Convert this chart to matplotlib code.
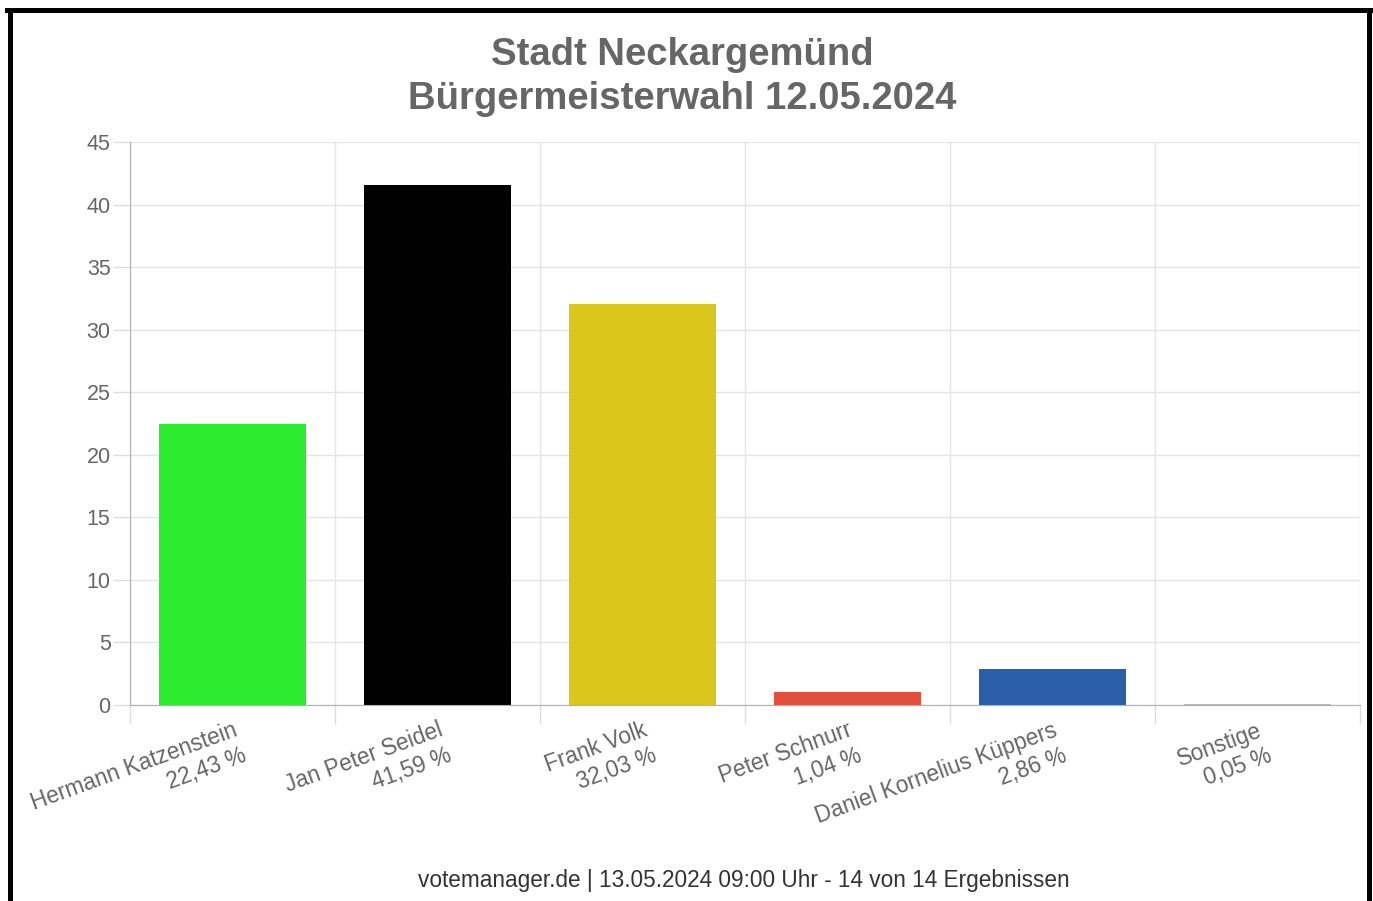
import matplotlib
matplotlib.use("Agg")
import matplotlib.pyplot as plt
from matplotlib.lines import Line2D

plt.rcParams['font.family'] = ['Liberation Sans', 'DejaVu Sans']

# data
kandidaten = ["Hermann Katzenstein", "Jan Peter Seidel", "Frank Volk",
              "Peter Schnurr", "Daniel Kornelius Küppers", "Sonstige"]
anteile = [22.43, 41.59, 32.03, 1.04, 2.86, 0.05]
anteil_text = ["22,43 %", "41,59 %", "32,03 %", "1,04 %", "2,86 %", "0,05 %"]
farben = ["#2deb2f", "#000000", "#dbc71b", "#e0503a", "#285fa8", "#b8b8b8"]
y_ticks = [0, 5, 10, 15, 20, 25, 30, 35, 40, 45]

fig = plt.figure(figsize=(13.73, 9.01), dpi=100)
ax = fig.add_axes([130 / 1373, 1 - 705 / 901, 1230 / 1373, 563 / 901])

x = list(range(len(kandidaten)))
ax.bar(x, anteile, width=0.72, color=farben, zorder=3)

ax.set_xlim(-0.5, len(kandidaten) - 0.5)
ax.set_ylim(0, 45)
ax.set_yticks(y_ticks)
ax.set_yticklabels([str(t) for t in y_ticks])

# vertical grid lines sit between the categories (chart.js style)
ax.set_xticks([i - 0.5 for i in range(len(kandidaten) + 1)])
ax.set_xticklabels([])
ax.tick_params(axis='x', length=14, color="#dddddd", width=1)
ax.tick_params(axis='y', length=12, color="#dddddd", width=1, labelsize=15.5,
               labelcolor="#666666", pad=2)
ax.grid(True, color="#e4e4e4", linewidth=1, zorder=0)

for s in ["top", "right"]:
    ax.spines[s].set_visible(False)
ax.spines["left"].set_color("#b0b0b0")
ax.spines["bottom"].set_color("#b0b0b0")
ax.spines["left"].set_zorder(4)
ax.spines["bottom"].set_zorder(4)

# category labels, rotated, right end at the bar centre
for i, (name, txt) in enumerate(zip(kandidaten, anteil_text)):
    ax.text(i, -1.1, name + "\n" + txt, rotation=20, ha="right", va="top",
            rotation_mode="anchor", multialignment="right",
            fontsize=16.3, color="#666666", linespacing=1.2)

fig.text(0.497, 0.959, "Stadt Neckargemünd\nBürgermeisterwahl 12.05.2024",
         ha="center", va="top", fontsize=27.5, fontweight="bold",
         color="#666666", linespacing=1.28)

fig.text(0.542, 0.023, "votemanager.de | 13.05.2024 09:00 Uhr - 14 von 14 Ergebnissen",
         ha="center", va="center", fontsize=16.3, color="#333333")

# black frame (no bottom edge visible)
lw = 5 * 0.72
fig.add_artist(Line2D([9.5 / 1373, 9.5 / 1373], [0, 1 - 9.5 / 901], color="black",
                      linewidth=lw, transform=fig.transFigure))
fig.add_artist(Line2D([1368.5 / 1373, 1368.5 / 1373], [0, 1 - 9.5 / 901], color="black",
                      linewidth=lw, transform=fig.transFigure))
fig.add_artist(Line2D([7 / 1373, 1371 / 1373], [1 - 9.5 / 901, 1 - 9.5 / 901], color="black",
                      linewidth=lw, transform=fig.transFigure))

fig.savefig("out.png", dpi=100)
